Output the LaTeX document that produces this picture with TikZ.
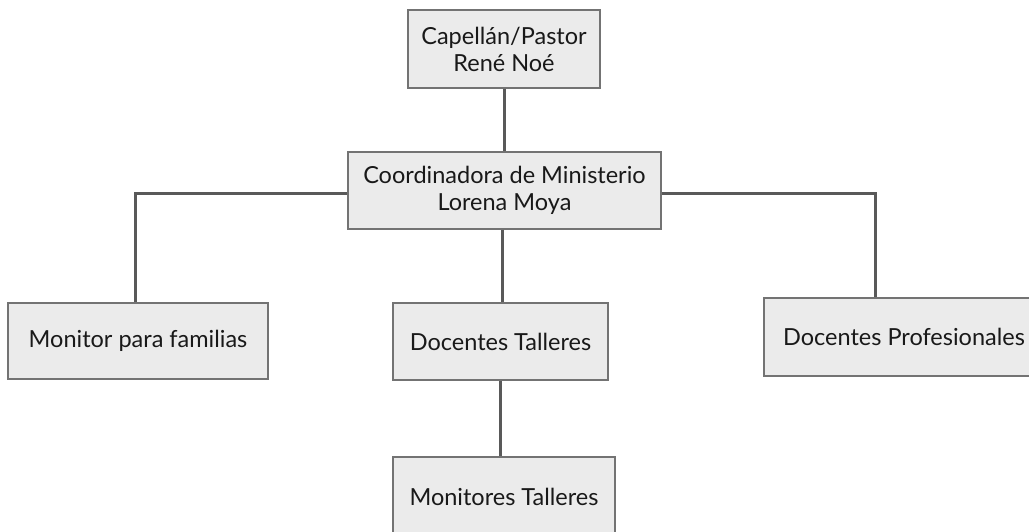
\documentclass[tikz,border=0pt]{standalone}
\usepackage{fontspec}
\setmainfont{Lato}
\begin{document}
\begin{tikzpicture}[x=1pt,y=-1pt,
  box/.style={draw=black!55,line width=1.6pt,fill=black!8,align=center,inner sep=0pt,
    font=\fontsize{23.5}{27}\selectfont,text=black!90},
  link/.style={draw=black!65,line width=3pt}]
\useasboundingbox (0,0) rectangle (1029,532);
\node[box,minimum width=192pt,minimum height=78pt] (top) at (504,49) {Capellán/Pastor\\René Noé};
\node[box,minimum width=313pt,minimum height=77pt] (coord) at (504.5,190.5) {Coordinadora de Ministerio\\Lorena Moya};
\node[box,minimum width=260pt,minimum height=76pt] (mon) at (138,341) {Monitor para familias};
\node[box,minimum width=215pt,minimum height=77pt] (doct) at (500.5,341.5) {Docentes Talleres};
\node[box,minimum width=280pt,minimum height=78pt] (docp) at (904,337) {Docentes Profesionales};
\node[box,minimum width=222pt,minimum height=80pt] (mont) at (504,497) {Monitores Talleres};
\draw[link] (top.south) -- (top.south |- coord.north);
\draw[link] ([yshift=-3.5pt]coord.west) -| ([xshift=-3pt]mon.north);
\draw[link] ([yshift=-3.5pt]coord.east) -| ([xshift=-29pt]docp.north);
\draw[link] ([xshift=-2pt]coord.south) -- ([xshift=-2pt]coord.south |- doct.north);
\draw[link] (doct.south) -- (doct.south |- mont.north);
\end{tikzpicture}
\end{document}
